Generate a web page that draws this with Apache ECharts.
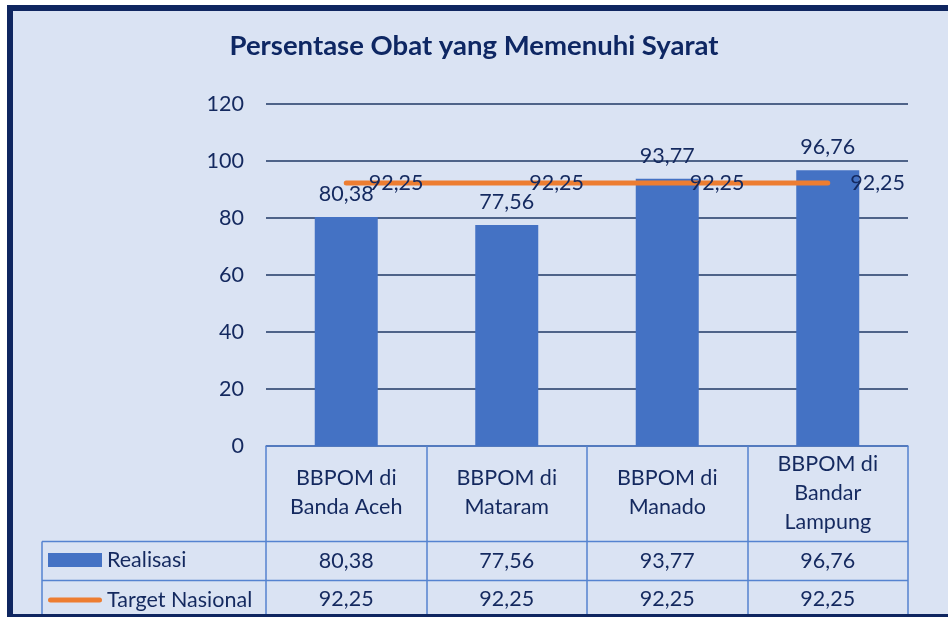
<!DOCTYPE html>
<html><head><meta charset="utf-8">
<script src="https://cdn.jsdelivr.net/npm/echarts@6/dist/echarts.min.js"></script>
<style>html,body{margin:0;padding:0;background:#fff}#c{width:948px;height:617px}</style>
</head><body><div id="c"></div>
<script>
const categories = ['BBPOM di\nBanda Aceh', 'BBPOM di\nMataram', 'BBPOM di\nManado', 'BBPOM di\nBandar\nLampung'];
const realisasi = [80.38, 77.56, 93.77, 96.76];
const target = [92.25, 92.25, 92.25, 92.25];
const seriesNames = ['Realisasi', 'Target Nasional'];
const yMin = 0, yMax = 120, yStep = 20;

const fmt = v => v.toFixed(2).replace('.', ',');
const NAVY = '#1f3864', TXT = '#14295f', BLUE = '#4472c4', ORANGE = '#ed7d31', TBL = '#5583d0';
const FONT = 'Lato';
const FS = 21.5;

const chart = echarts.init(document.getElementById('c'));
chart.setOption({
  backgroundColor: '#fff',
  animation: false,
  textStyle: { fontFamily: FONT },
  title: {
    text: 'Persentase Obat yang Memenuhi Syarat',
    left: 'center', top: 32, padding: [0, 0, 0, 24],
    textStyle: { fontFamily: FONT, fontWeight: 'bold', fontSize: 27.5, color: '#0e2763' }
  },
  legend: {
    orient: 'vertical', left: 48, top: 549, padding: 0,
    itemWidth: 54, itemHeight: 14, itemGap: 18,
    textStyle: { fontFamily: FONT, fontSize: FS, color: TXT, lineHeight: 20 },
    data: [
      { name: seriesNames[0], icon: 'rect' },
      { name: seriesNames[1], icon: 'path://M2.5,0 L51.5,0 A2.5,2.5 0 0 1 51.5,5 L2.5,5 A2.5,2.5 0 0 1 2.5,0 Z' }
    ]
  },
  grid: { left: 266, right: 40, top: 104, bottom: 171 },
  xAxis: [
    {
      type: 'category', data: categories, position: 'bottom',
      axisLine: { lineStyle: { color: TBL, width: 1.5 } },
      axisTick: { show: true, interval: 0, length: 171, lineStyle: { color: TBL, width: 1.5 } },
      axisLabel: { interval: 0, margin: 47, verticalAlign: 'middle', lineHeight: 29, fontSize: FS, color: TXT, fontFamily: FONT }
    },
    {
      type: 'category', data: categories, position: 'bottom',
      axisLine: { show: false }, axisTick: { show: false },
      axisLabel: { interval: 0, margin: 115, verticalAlign: 'middle', fontSize: FS, color: TXT, fontFamily: FONT,
        formatter: (v, i) => fmt(realisasi[i]) }
    },
    {
      type: 'category', data: categories, position: 'bottom',
      axisLine: { show: false }, axisTick: { show: false },
      axisLabel: { interval: 0, margin: 153, verticalAlign: 'middle', fontSize: FS, color: TXT, fontFamily: FONT,
        formatter: (v, i) => fmt(target[i]) }
    }
  ],
  yAxis: {
    type: 'value', min: yMin, max: yMax, interval: yStep,
    axisLine: { show: false }, axisTick: { show: false },
    axisLabel: { margin: 22, fontSize: FS, color: TXT, fontFamily: FONT },
    splitLine: { lineStyle: { color: NAVY, width: 1.5 } }
  },
  series: [
    {
      name: seriesNames[0], type: 'bar', data: realisasi, barWidth: 63, xAxisIndex: 0,
      itemStyle: { color: BLUE },
      label: { show: true, position: 'top', distance: 12, fontSize: FS, color: TXT, fontFamily: FONT, formatter: p => fmt(p.value) },
      z: 2
    },
    {
      name: seriesNames[1], type: 'line', data: target, xAxisIndex: 0,
      symbol: 'circle', symbolSize: 1,
      lineStyle: { color: ORANGE, width: 5, cap: 'round' },
      itemStyle: { color: ORANGE },
      label: { show: true, position: 'right', distance: 22, fontSize: FS, color: TXT, fontFamily: FONT, formatter: p => fmt(p.value) },
      z: 3
    }
  ],
  graphic: [
    { type: 'rect', z: -10, shape: { x: 10, y: 8, width: 960, height: 609 }, style: { fill: '#dae3f3', stroke: null } },
    { type: 'line', z: 5, shape: { x1: 42, y1: 541.5, x2: 908, y2: 541.5 }, style: { stroke: TBL, lineWidth: 1.5 } },
    { type: 'line', z: 5, shape: { x1: 42, y1: 580.5, x2: 908, y2: 580.5 }, style: { stroke: TBL, lineWidth: 1.5 } },
    { type: 'line', z: 5, shape: { x1: 42, y1: 541.5, x2: 42, y2: 617 }, style: { stroke: TBL, lineWidth: 1.5 } },
    { type: 'rect', z: 100, shape: { x: 10, y: 8, width: 960, height: 609 }, style: { fill: null, stroke: '#0f2660', lineWidth: 6 } }
  ]
});
</script></body></html>
